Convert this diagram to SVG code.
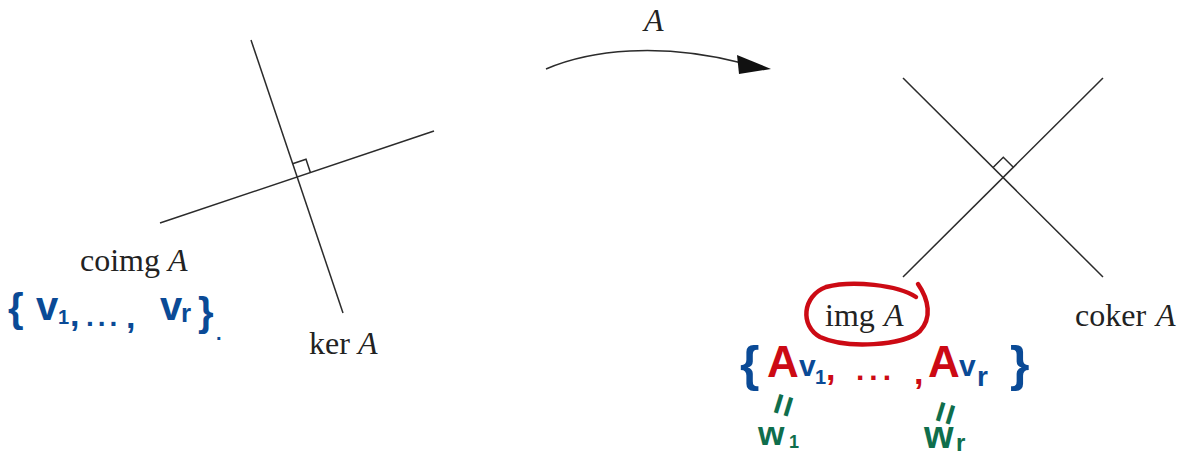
<svg xmlns="http://www.w3.org/2000/svg" width="1181" height="457" viewBox="0 0 1181 457">
<style>
.ln{stroke:#2b2b2b;stroke-width:1.5;fill:none}
.tx{font-family:"Liberation Serif","DejaVu Serif",serif;font-size:32px;fill:#222}
.it{font-style:italic}
.hw{font-family:"Liberation Sans","DejaVu Sans",sans-serif;font-weight:bold}
.blue{fill:#0a4a96}
.red{fill:#cc0a14}
.green{fill:#0f6e4c}
</style>
<rect width="1181" height="457" fill="#ffffff"/>
<g id="left-space">
<line class="ln" x1="251" y1="40" x2="343" y2="313"/>
<line class="ln" x1="160" y1="223" x2="434" y2="131"/>
<polyline class="ln" points="292.6,163.7 306,159.2 310.4,172.5"/>
</g>
<g id="right-space">
<line class="ln" x1="903" y1="78" x2="1103" y2="277"/>
<line class="ln" x1="903" y1="277" x2="1103" y2="78"/>
<polyline class="ln" points="993.3,167.2 1003.3,157.2 1013.3,167.2"/>
</g>
<g id="connectors">
<path class="ln" d="M546,69 C590,50 660,42 742,63"/>
<polygon points="771,69 737,55 739,74" fill="#111"/>
<text class="tx it" x="644" y="31">A</text>
</g>
<g id="labels">
<text class="tx" x="80" y="271">coimg</text><text class="tx it" x="168" y="271">A</text>
<text class="tx" x="309" y="354">ker</text><text class="tx it" x="358" y="354">A</text>
<text class="tx" x="825" y="326">img</text><text class="tx it" x="884" y="326">A</text>
<text class="tx" x="1075" y="326">coker</text><text class="tx it" x="1156" y="326">A</text>
</g>
<g id="img-circle">
<path d="M916,297 C898,285 852,280 826,287 C802,296 800,326 820,337 C846,349 904,346 920,331 C932,318 929,300 918,284" fill="none" stroke="#cc0a14" stroke-width="4.5" stroke-linecap="round"/>
</g>
<g id="left-handwriting" class="hw blue">
<text x="8" y="322" font-size="40">{</text>
<text x="36" y="320" font-size="40">v</text>
<text x="58" y="324" font-size="20">1</text>
<text x="70" y="326" font-size="34">,</text>
<text x="86" y="326" font-size="28" letter-spacing="4">...</text>
<text x="126" y="328" font-size="34">,</text>
<text x="160" y="320" font-size="40">v</text>
<text x="181" y="322" font-size="26">r</text>
<text x="198" y="326" font-size="40">}</text>
<text x="216" y="340" font-size="20">.</text>
</g>
<g id="right-handwriting" class="hw">
<text class="blue" x="740" y="381" font-size="50">{</text>
<text class="red" x="767" y="377" font-size="44">A</text>
<text class="blue" x="799" y="376" font-size="30">v</text>
<text class="blue" x="815" y="384" font-size="20">1</text>
<text class="red" x="826" y="380" font-size="34">,</text>
<text class="red" x="856" y="380" font-size="30" letter-spacing="5">...</text>
<text class="red" x="914" y="384" font-size="34">,</text>
<text class="red" x="928" y="377" font-size="44">A</text>
<text class="blue" x="959" y="376" font-size="30">v</text>
<text class="blue" x="977" y="386" font-size="28">r</text>
<text class="blue" x="1010" y="381" font-size="50">}</text>
<text class="green" x="0" y="0" font-size="38" text-anchor="middle" dominant-baseline="central" transform="translate(783,405) rotate(-73)">=</text>
<text class="green" x="758" y="445" font-size="34">w</text>
<text class="green" x="789" y="448" font-size="18">1</text>
<text class="green" x="0" y="0" font-size="38" text-anchor="middle" dominant-baseline="central" transform="translate(945,413) rotate(-73)">=</text>
<text class="green" x="924" y="448" font-size="38">w</text>
<text class="green" x="956" y="451" font-size="24">r</text>
</g>
</svg>
